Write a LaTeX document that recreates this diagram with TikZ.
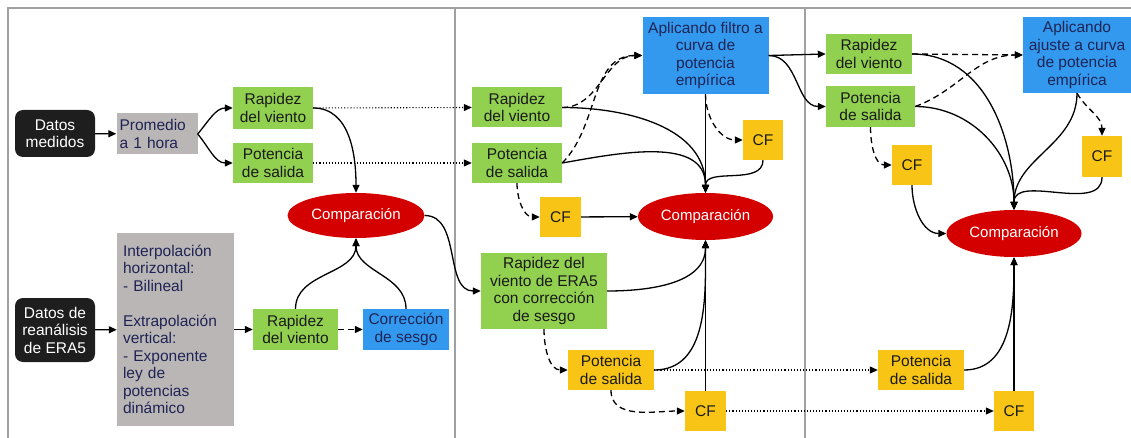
\documentclass[tikz,border=0pt]{standalone}
\usepackage{fontspec}
\setmainfont{Liberation Sans}
\usepackage{tikz}
\usetikzlibrary{arrows.meta,shapes.geometric}

\definecolor{cBlack}{HTML}{1E1E1E}
\definecolor{cGrey}{HTML}{BAB6B6}
\definecolor{cGreen}{HTML}{92D050}
\definecolor{cBlue}{HTML}{3399EE}
\definecolor{cYellow}{HTML}{F8C516}
\definecolor{cRed}{HTML}{D40000}
\definecolor{cNavy}{HTML}{1F2455}
\definecolor{cText}{HTML}{1A1A1A}
\definecolor{cFrame}{HTML}{A0A0A0}

\tikzset{
  sz/.style 2 args={minimum width=#1pt, minimum height=#2pt},
  darkbox/.style={fill=cBlack, text=white, rounded corners=8pt},
  greybox/.style={fill=cGrey, text=cNavy, align=left},
  greenbox/.style={fill=cGreen, text=cText},
  bluebox/.style={fill=cBlue, text=cNavy},
  yellowbox/.style={fill=cYellow, text=cText},
  cmpnode/.style={ellipse, fill=cRed, text=white, font=\fontsize{15}{17}\selectfont},
  link/.style={->, line width=1.3pt},
  dashlink/.style={->, line width=1.3pt, dash pattern=on 6pt off 4pt},
  dotlink/.style={->, line width=1.1pt, dotted}
}

\begin{document}
\begin{tikzpicture}[x=1pt,y=-1pt,
  >={Triangle[length=8pt,width=7pt]},
  every node/.style={font=\fontsize{15.5}{17.5}\selectfont, inner sep=0pt, align=center}]
  \useasboundingbox (0,0) rectangle (1131,438);

  % frame and column separators
  \draw[cFrame, line width=1.2pt] (8,438) -- (8,8) -- (1131,8);
  \draw[cFrame, line width=1.2pt] (455,8) -- (455,438);
  \draw[cFrame, line width=1.2pt] (805,8) -- (805,438);

  % first column
  \node[darkbox, sz={80}{47}] (medidos) at (55,133.5) {Datos\\medidos};
  \node[greybox, sz={81}{41}, text width=75pt] (promedio) at (157,134) {Promedio\\a 1 hora};
  \node[greenbox, sz={80}{42}] (rapidezA) at (273,108) {Rapidez\\del viento};
  \node[greenbox, sz={80}{40}] (potenciaA) at (273,163) {Potencia\\de salida};
  \node[cmpnode, sz={137}{45}] (compA) at (356,215.5) {Comparación};
  \node[darkbox, sz={80}{64}] (era) at (55,330) {Datos de\\reanálisis\\de ERA5};
  \node[greybox, sz={117}{193}, text width=105pt] (interp) at (175.5,329.5)
    {Interpolación\\horizontal:\\- Bilineal\\[17.5pt]Extrapolación\\vertical:\\- Exponente\\ley de\\potencias\\dinámico};
  \node[greenbox, sz={85}{41}] (rapidezB) at (295.5,329.5) {Rapidez\\del viento};
  \node[bluebox, sz={86}{41}] (sesgo) at (406,329.5) {Corrección\\de sesgo};

  % second column
  \node[greenbox, sz={90}{40}] (rapidezC) at (517,107.5) {Rapidez\\del viento};
  \node[greenbox, sz={90}{40}] (potenciaC) at (517,163) {Potencia\\de salida};
  \node[bluebox, sz={126}{77}] (filtro) at (705.5,55.5) {Aplicando filtro a\\curva de\\potencia\\empírica};
  \node[yellowbox, sz={40}{40}] (cfA) at (763,140) {CF};
  \node[yellowbox, sz={41}{40}] (cfB) at (560.5,217) {CF};
  \node[cmpnode, sz={135}{47}] (compB) at (705.5,216.5) {Comparación};
  \node[greenbox, sz={126}{76}] (eraSesgo) at (544,291) {Rapidez del\\viento de ERA5\\con corrección\\de sesgo};
  \node[yellowbox, sz={86}{40}] (potenciaD) at (611,370) {Potencia\\de salida};
  \node[yellowbox, sz={41}{40}] (cfC) at (705.5,411) {CF};

  % third column
  \node[greenbox, sz={86}{40}] (rapidezE) at (869,54) {Rapidez\\del viento};
  \node[greenbox, sz={89}{41}] (potenciaE) at (870.5,106.5) {Potencia\\de salida};
  \node[bluebox, sz={108}{76}] (ajuste) at (1077,55) {Aplicando\\ajuste a curva\\de potencia\\empírica};
  \node[yellowbox, sz={40}{40}] (cfD) at (912,165) {CF};
  \node[yellowbox, sz={40}{41}] (cfE) at (1102,156.5) {CF};
  \node[cmpnode, sz={135}{47}] (compC) at (1014,233.5) {Comparación};
  \node[yellowbox, sz={86}{40}] (potenciaF) at (921,370) {Potencia\\de salida};
  \node[yellowbox, sz={40}{40}] (cfF) at (1014,411) {CF};

  % measured data links
  \draw[link] (medidos) -- (promedio);
  \draw[link] (promedio.east) to[out=50,in=180] (rapidezA.west);
  \draw[link] (promedio.east) to[out=-50,in=180] (potenciaA.west);
  \draw[link] (rapidezA.east) to[out=0,in=90] (compA.north);
  \draw[dotlink] (rapidezA.east) -- (rapidezC.west);
  \draw[dotlink] (potenciaA.east) -- (potenciaC.west);

  % ERA5 links
  \draw[link] (era) -- (interp);
  \draw[link] (interp) -- (rapidezB);
  \draw[dashlink] (rapidezB) -- (sesgo);
  \draw[link] (rapidezB.north) to[out=90,in=-90] (compA.south);
  \draw[link] (sesgo.north) to[out=90,in=-90] (compA.south);
  \draw[link] (compA.east) to[out=0,in=180] (eraSesgo.west);

  % second column links
  \draw[dashlink] (rapidezC.east) to[out=0,in=180] (filtro.west);
  \draw[dashlink] (potenciaC.east) to[out=45,in=180] (filtro.west);
  \draw[link] (rapidezC.east) to[out=0,in=90] (compB.north);
  \draw[link] (potenciaC.east) to[out=10,in=90] (compB.north);
  \draw[link] (filtro) -- (compB);
  \draw[link] (cfA.south) to[out=-90,in=90] (compB.north);
  \draw[dashlink] (filtro.south) to[out=-90,in=180] (cfA.west);
  \draw[dashlink] (potenciaC.south) to[out=-90,in=180] (cfB.west);
  \draw[link] (cfB) -- (compB);
  \draw[link] (eraSesgo.east) to[out=0,in=-90] (compB.south);
  \draw[dashlink] (eraSesgo.south) to[out=-90,in=180] (potenciaD.west);
  \draw[link] (potenciaD.east) to[out=0,in=-90] (compB.south);
  \draw[link] (cfC) -- (compB);
  \draw[dashlink] (potenciaD.south) to[out=-90,in=180] (cfC.west);
  \draw[dotlink] (potenciaD) -- (potenciaF);
  \draw[dotlink] (cfC) -- (cfF);

  % third column links
  \draw[link] (filtro.east) -- (rapidezE.west);
  \draw[link] (filtro.east) to[out=0,in=180] (potenciaE.west);
  \draw[dashlink] (rapidezE.east) -- (ajuste.west);
  \draw[dashlink] (potenciaE.east) to[out=20,in=180] (ajuste.west);
  \draw[link] (rapidezE.east) to[out=0,in=90] (compC.north);
  \draw[link] (potenciaE.east) to[out=0,in=90] (compC.north);
  \draw[link] (ajuste.south) to[out=-90,in=90] (compC.north);
  \draw[link] (cfE.south) to[out=-90,in=90] (compC.north);
  \draw[dashlink] (ajuste.south) to[out=-60,in=90] (cfE.north);
  \draw[dashlink] (potenciaE.south) to[out=-90,in=180] (cfD.west);
  \draw[link] (cfD.south) to[out=-90,in=180] (compC.west);
  \draw[link] (potenciaF.east) to[out=0,in=-90] (compC.south);
  \draw[link] (cfF) -- (compC);
\end{tikzpicture}
\end{document}
